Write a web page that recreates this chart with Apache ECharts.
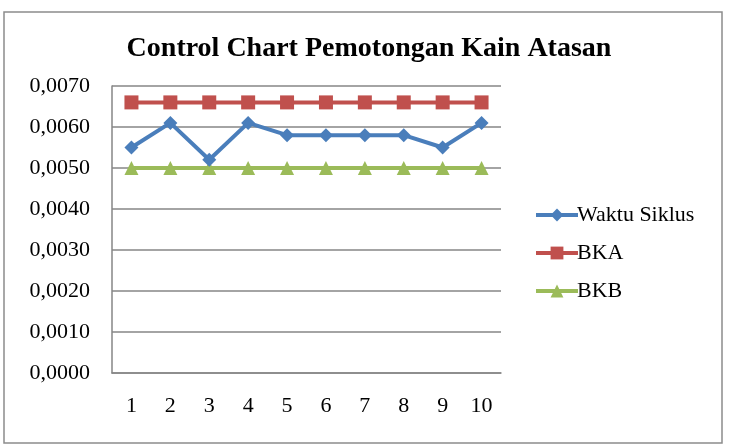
<!DOCTYPE html>
<html lang="en">
<head>
    <meta charset="UTF-8">
    <script src="https://cdn.jsdelivr.net/npm/echarts@6/dist/echarts.min.js"></script>
    <style>
        body { margin: 0; background: #fff; }
        #chart { width: 729px; height: 448px; }
    </style>
</head>
<body>
<div id="chart"></div>
<script>
    var sampel = ['1', '2', '3', '4', '5', '6', '7', '8', '9', '10'];
    var waktuSiklus = [0.0055, 0.0061, 0.0052, 0.0061, 0.0058, 0.0058, 0.0058, 0.0058, 0.0055, 0.0061];
    var bka = [0.0066, 0.0066, 0.0066, 0.0066, 0.0066, 0.0066, 0.0066, 0.0066, 0.0066, 0.0066];
    var bkb = [0.0050, 0.0050, 0.0050, 0.0050, 0.0050, 0.0050, 0.0050, 0.0050, 0.0050, 0.0050];

    var serif = '"Liberation Serif", "Times New Roman", serif';

    function fmt(v) {
        return v.toFixed(4).replace('.', ',');
    }

    var mCharts = echarts.init(document.getElementById('chart'));

    var option = {
        backgroundColor: '#fff',
        animation: false,
        graphic: [{
            type: 'rect',
            shape: { x: 4, y: 12, width: 718, height: 431 },
            style: { fill: 'none', stroke: '#8c8c8c', lineWidth: 1.5 }
        }],
        title: {
            text: 'Control Chart Pemotongan Kain Atasan',
            left: 364,
            textAlign: 'center',
            top: 30,
            textStyle: { fontFamily: serif, fontSize: 28, fontWeight: 'bold', color: '#000' }
        },
        grid: { left: 112, right: 228, top: 86, bottom: 75 },
        xAxis: {
            type: 'category',
            data: sampel,
            boundaryGap: true,
            axisLine: { lineStyle: { color: '#868686', width: 1.5 } },
            axisTick: { show: false },
            axisLabel: { fontFamily: serif, fontSize: 22, color: '#000', margin: 22 }
        },
        yAxis: {
            type: 'value',
            min: 0,
            max: 0.007,
            interval: 0.001,
            axisLine: { show: true, lineStyle: { color: '#868686', width: 1.5 } },
            axisTick: { show: false },
            splitLine: { lineStyle: { color: '#868686', width: 1.5 } },
            axisLabel: { fontFamily: serif, fontSize: 22, color: '#000', margin: 22, formatter: fmt }
        },
        legend: {
            orient: 'vertical',
            left: 529,
            top: 199,
            itemWidth: 42,
            itemHeight: 16,
            itemGap: 16,
            lineStyle: { width: 4 },
            textStyle: { fontFamily: serif, fontSize: 22, color: '#000', padding: [0, 0, 0, -6] },
            data: ['Waktu Siklus', 'BKA', 'BKB']
        },
        series: [
            {
                name: 'Waktu Siklus',
                type: 'line',
                data: waktuSiklus,
                color: '#4a7ebb',
                symbol: 'diamond',
                symbolSize: 14,
                lineStyle: { width: 4 },
                z: 3
            },
            {
                name: 'BKA',
                type: 'line',
                data: bka,
                color: '#c0504d',
                symbol: 'rect',
                symbolSize: 14,
                lineStyle: { width: 4 },
                z: 2
            },
            {
                name: 'BKB',
                type: 'line',
                data: bkb,
                color: '#9bbb59',
                symbol: 'triangle',
                symbolSize: 14,
                lineStyle: { width: 4 },
                z: 2
            }
        ]
    };
    mCharts.setOption(option);
</script>
</body>
</html>
